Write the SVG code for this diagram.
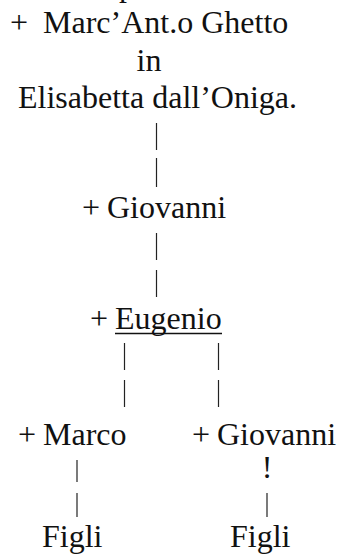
<svg xmlns="http://www.w3.org/2000/svg" width="339" height="554" viewBox="0 0 339 554">
<style>
text { font-family: "Liberation Serif", "Times New Roman", serif; font-size: 32px; fill: #111; }
.c line { stroke: #222; stroke-width: 1.2; }
</style>
<rect width="339" height="554" fill="#fff"/>
<g id="top-cut"><text x="119" y="-4">p</text></g>
<g id="marcantonio">
<text y="33"><tspan x="10">+</tspan><tspan x="43">Marc’Ant.o Ghetto</tspan></text>
<text x="149" y="71" text-anchor="middle">in</text>
<text x="18" y="108">Elisabetta dall’Oniga.</text>
</g>
<g id="giovanni1"><text y="218"><tspan x="82">+</tspan><tspan x="107">Giovanni</tspan></text></g>
<g id="eugenio"><text y="329"><tspan x="90">+</tspan><tspan x="115">Eugenio</tspan></text>
<line x1="115" y1="333.5" x2="222" y2="333.5" stroke="#111" stroke-width="1.5"/></g>
<g id="marco"><text y="445"><tspan x="18">+</tspan><tspan x="43">Marco</tspan></text></g>
<g id="giovanni2"><text y="445"><tspan x="192">+</tspan><tspan x="217">Giovanni</tspan></text></g>
<g id="figli1"><text x="42" y="547">Figli</text></g>
<g id="figli2"><text x="230" y="547">Figli</text></g>
<g id="connectors" class="c">
<line x1="156.5" y1="123" x2="156.5" y2="150"/>
<line x1="156.5" y1="158" x2="156.5" y2="187"/>
<line x1="156.5" y1="233" x2="156.5" y2="260"/>
<line x1="156.5" y1="270" x2="156.5" y2="297"/>
<line x1="124.5" y1="343" x2="124.5" y2="370"/>
<line x1="124.5" y1="380" x2="124.5" y2="407"/>
<line x1="218.5" y1="343" x2="218.5" y2="370"/>
<line x1="218.5" y1="380" x2="218.5" y2="407"/>
<line x1="77" y1="460" x2="77" y2="482"/>
<line x1="77" y1="493" x2="77" y2="517"/>
<text x="267" y="478" text-anchor="middle">!</text>
<line x1="267" y1="493" x2="267" y2="517"/>
</g>
</svg>
